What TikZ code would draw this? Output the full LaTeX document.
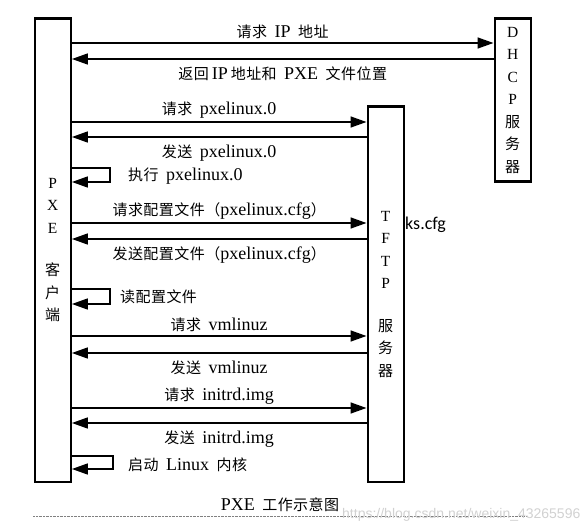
\documentclass[tikz,border=0pt]{standalone}
\usepackage{fontspec}
\setmainfont{Liberation Serif}
\newfontfamily\cjkfont[LetterSpace=3]{Noto Sans CJK SC}
\newfontfamily\notefont{Carlito}
\newfontfamily\wmfont{Liberation Sans}
\usetikzlibrary{arrows.meta,positioning,calc}
\newcommand{\zhtxt}[1]{{\cjkfont\fontsize{15}{18}\selectfont #1}}

\tikzset{
  hostbox/.style={draw, line width=2.4pt, minimum width=36pt, anchor=north west,
    align=center, inner sep=0pt, font=\fontsize{15.5}{22.5}\selectfont},
  msg/.style={line width=1.6pt, -{Triangle[length=16pt,width=11pt]}},
  msglabel/.style={font=\fontsize{18}{20}\selectfont, inner sep=2pt},
  up/.style={msglabel, above=1pt},
  down/.style={msglabel, below=5pt},
}

\begin{document}
\begin{tikzpicture}[x=1pt,y=-1pt]
  \useasboundingbox (0,0) rectangle (582,532);

  % the three hosts
  \node[hostbox, minimum height=463pt] (pxe) at (33.5,17.5)
    {P\\X\\E\\[20pt]\zhtxt{客}\\\zhtxt{户}\\\zhtxt{端}};
  \node[hostbox, minimum height=163pt] (dhcp) at (493.5,17.5)
    {D\\H\\C\\P\\\zhtxt{服}\\\zhtxt{务}\\\zhtxt{器}};
  \node[hostbox, minimum height=375pt] (tftp) at (366.5,105.5)
    {T\\F\\T\\P\\[20pt]\zhtxt{服}\\\zhtxt{务}\\\zhtxt{器}};

  % DHCP exchange
  \draw[msg] (pxe.east |- 0,43) -- node[up] (getip) {\zhtxt{请求}\, IP\, \zhtxt{地址}} (dhcp.west |- 0,43);
  \draw[msg] (dhcp.west |- 0,59) -- node[down] (sendip) {\zhtxt{返回}\,IP\,\zhtxt{地址和}\, PXE\, \zhtxt{文件位置}} (pxe.east |- 0,59);

  % TFTP exchange
  \draw[msg] (pxe.east |- 0,122) -- node[up] (getpxe) {\zhtxt{请求}\, pxelinux.0} (tftp.west |- 0,122);
  \draw[msg] (tftp.west |- 0,137) -- node[down] (sendpxe) {\zhtxt{发送}\, pxelinux.0} (pxe.east |- 0,137);
  \draw[msg] (pxe.east |- 0,168) -| (110,182) -- (pxe.east |- 0,182);
  \node[msglabel, anchor=west] (runpxe) at (126,176) {\zhtxt{执行}\, pxelinux.0};

  \draw[msg] (pxe.east |- 0,223) -- node[up] (getcfg) {\zhtxt{请求配置文件（}pxelinux.cfg\zhtxt{）}} (tftp.west |- 0,223);
  \draw[msg] (tftp.west |- 0,239) -- node[down] (sendcfg) {\zhtxt{发送配置文件（}pxelinux.cfg\zhtxt{）}} (pxe.east |- 0,239);
  \draw[msg] (pxe.east |- 0,289) -| (110,304) -- (pxe.east |- 0,304);
  \node[msglabel, anchor=west] (readcfg) at (118,297) {\zhtxt{读配置文件}};

  \draw[msg] (pxe.east |- 0,336) -- node[up] (getkern) {\zhtxt{请求}\, vmlinuz} (tftp.west |- 0,336);
  \draw[msg] (tftp.west |- 0,353) -- node[down] (sendkern) {\zhtxt{发送}\, vmlinuz} (pxe.east |- 0,353);
  \draw[msg] (pxe.east |- 0,408) -- node[up] (getinitrd) {\zhtxt{请求}\, initrd.img} (tftp.west |- 0,408);
  \draw[msg] (tftp.west |- 0,423) -- node[down] (sendinitrd) {\zhtxt{发送}\,\ initrd.img} (pxe.east |- 0,423);
  \draw[msg] (pxe.east |- 0,456) -| (113,469) -- (pxe.east |- 0,469);
  \node[msglabel, anchor=west] (boot) at (126,465) {\zhtxt{启动}\, Linux\, \zhtxt{内核}};

  % side note
  \node[font=\notefont\fontsize{18}{20}\selectfont, anchor=west, inner sep=0pt] (ks) at (405,225) {ks.cfg};

  % caption
  \node[msglabel] (caption) at (280,505) {PXE\, \zhtxt{工作示意图}};
  \draw[gray, line width=0.6pt, dash pattern=on 0.7pt off 0.7pt] (33,516) -- (528,516);
  \node[font=\wmfont\fontsize{14}{16}\selectfont, text=black!18, anchor=west, inner sep=0pt] (wm) at (342,515) {https://blog.csdn.net/weixin\_43265596};
\end{tikzpicture}
\end{document}
